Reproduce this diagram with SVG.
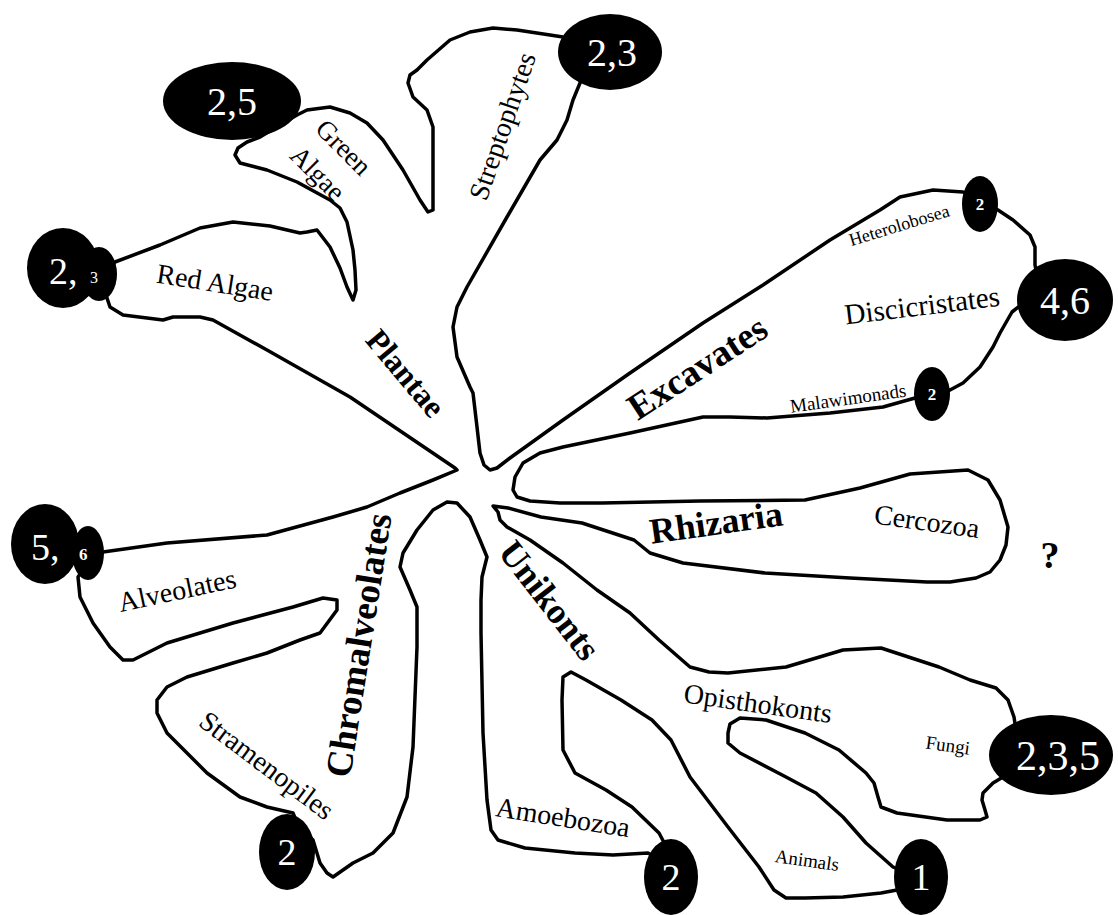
<svg xmlns="http://www.w3.org/2000/svg" width="1118" height="915" viewBox="0 0 1118 915">
<style>
.ol{fill:none;stroke:#000;stroke-width:3.5;stroke-linejoin:round;stroke-linecap:round}
.bd{fill:#000}
.bt{fill:#fff;font-family:"Liberation Serif","Times New Roman",serif;text-anchor:middle}
.lb{fill:#000;font-family:"Liberation Serif","Times New Roman",serif;text-anchor:middle}
.bo{font-weight:bold}
</style>
<rect width="1118" height="915" fill="#fff"/>
<g id="outline">
<path class="ol" d="M455,468 L350,397 L267,350 L213,320 L200,317 L173,317 L163,320 L123,315 L110,307 L107,298 L100,280 L115,262 L160,245 L200,228 L233,222 L270,226 L300,233 L307,232 L317,230 L330,247 L340,268 L347,287 L353,300 L356,290 L355,270 L353,250 L347,222 L340,208 L330,200 L297,182 L267,170 L240,163 L235,155 L238,148 L247,142 L260,137 L280,125 L297,115 L307,110 L330,107 L350,113 L367,123 L383,140 L403,170 L420,200 L428,212 L433,210 L433,187 L433,127 L427,110 L413,97 L408,83 L410,75 L417,70 L427,60 L450,40 L470,32 L493,28 L517,30 L550,35 L563,37 L590,60 L580,83 L573,100 L567,120 L557,140 L540,160 L507,217 L467,287 L457,307 L453,327 L457,357 L470,387 L473,393 L477,427 L480,453 L484,465 L490,470 L497,468 L510,458 L563,420 L630,373 L703,323 L763,285 L830,240 L880,210 L900,197 L933,190 L963,192 L980,200 L998,210 L1013,220 L1030,235 L1035,247 L1035,265 L1040,290 L1012,312 L1000,333 L993,347 L980,367 L963,383 L950,390 L932,395 L915,398 L883,407 L830,413 L767,418 L730,417 L703,417 L630,433 L563,447 L540,453 L523,463 L515,477 L513,490 L517,497 L530,501 L560,503 L602,503 L700,501 L805,500 L860,488 L910,474 L968,470 L988,480 L1000,500 L1008,527 L1006,545 L1000,560 L990,572 L976,578 L950,582 L927,582 L850,578 L765,573 L683,563 L650,553 L634,540 L582,523 L541,517 L508,508 L493,506 L498,512 L500,520 L507,527 L530,540 L563,563 L597,590 L630,613 L659,640 L690,667 L709,672 L728,673 L786,667 L843,650 L881,648 L939,667 L970,680 L996,688 L1008,700 L1014,717 L1016,730 L1040,760 L1003,777 L993,783 L983,793 L982,800 L985,810 L987,817 L980,820 L947,820 L897,813 L881,807 L878,797 L874,783 L866,773 L839,750 L805,733 L766,720 L740,718 L730,724 L728,733 L728,743 L740,753 L786,777 L816,793 L843,817 L866,843 L893,867 L905,872 L915,880 L897,890 L881,893 L843,897 L805,898 L786,898 L774,890 L759,867 L728,827 L690,777 L671,740 L652,720 L621,700 L586,680 L571,672 L563,677 L562,700 L563,750 L575,773 L606,790 L632,807 L659,833 L668,850 L660,860 L648,853 L613,855 L575,853 L525,848 L498,840 L491,830 L487,800 L483,733 L481,633 L481,600 L482,577 L487,557 L480,540 L470,517 L457,503 L447,502 L433,510 L417,530 L403,553 L400,567 L410,590 L417,607 L417,647 L413,747 L407,797 L393,833 L373,853 L353,863 L333,877 L327,873 L320,863 L313,840 L300,830 L293,813 L267,807 L240,797 L207,773 L187,753 L167,733 L157,713 L157,700 L167,687 L187,677 L233,663 L267,653 L300,640 L320,633 L337,610 L337,600 L323,598 L293,607 L233,623 L167,643 L133,660 L123,660 L110,647 L93,623 L80,597 L78,577 L90,560 L103,552 L167,543 L267,535 L333,517 L367,507 L400,493 L433,480 L457,470 Z"/>
</g>
<g id="badge-green"><ellipse class="bd" cx="232" cy="101" rx="69" ry="39"/><text class="bt" x="232" y="101" dy=".35em" font-size="40">2,5</text></g>
<g id="badge-strepto"><ellipse class="bd" cx="610" cy="52" rx="52" ry="38"/><text class="bt" x="612" y="52" dy=".35em" font-size="40">2,3</text></g>
<g id="badge-red"><ellipse class="bd" cx="63" cy="268" rx="36" ry="40"/><ellipse class="bd" cx="99" cy="274" rx="18" ry="27"/><text class="bt" x="49" y="284" font-size="38" style="text-anchor:start">2,</text><text class="bt" x="90" y="283" font-size="16" style="text-anchor:start">3</text></g>
<g id="badge-hetero"><ellipse class="bd" cx="980" cy="204" rx="18" ry="28"/><text class="bt bo" x="980" y="204" dy=".35em" font-size="17">2</text></g>
<g id="badge-disci"><ellipse class="bd" cx="1065" cy="300" rx="48" ry="41"/><text class="bt" x="1065" y="300" dy=".35em" font-size="40">4,6</text></g>
<g id="badge-malawi"><ellipse class="bd" cx="932" cy="394" rx="18" ry="27"/><text class="bt bo" x="932" y="394" dy=".35em" font-size="17">2</text></g>
<g id="badge-alveo"><ellipse class="bd" cx="45" cy="544" rx="34" ry="40"/><ellipse class="bd" cx="88" cy="553" rx="16" ry="27"/><text class="bt" x="31" y="560" font-size="38" style="text-anchor:start">5,</text><text class="bt bo" x="79" y="560" font-size="17" style="text-anchor:start">6</text></g>
<g id="badge-fungi"><ellipse class="bd" cx="1051" cy="755" rx="62" ry="40"/><text class="bt" x="1058" y="755" dy=".35em" font-size="42">2,3,5</text></g>
<g id="badge-strameno"><ellipse class="bd" cx="287" cy="852" rx="28" ry="38"/><text class="bt" x="287" y="852" dy=".35em" font-size="38">2</text></g>
<g id="badge-amoebo"><ellipse class="bd" cx="671" cy="877" rx="27" ry="38"/><text class="bt" x="671" y="877" dy=".35em" font-size="38">2</text></g>
<g id="badge-animals"><ellipse class="bd" cx="921" cy="877" rx="27" ry="38"/><text class="bt" x="921" y="877" dy=".35em" font-size="38">1</text></g>
<g id="labels">
<text class="lb" font-size="27" transform="translate(344,147) rotate(45)" dy=".35em">Green</text>
<text class="lb" font-size="27" transform="translate(318,173) rotate(45)" dy=".35em">Algae</text>
<text class="lb" font-size="28" transform="translate(215,282) rotate(9)" dy=".35em">Red Algae</text>
<text class="lb" font-size="28" transform="translate(502,126) rotate(-71)" dy=".35em">Streptophytes</text>
<text class="lb bo" font-size="32" transform="translate(406,373) rotate(50)" dy=".35em">Plantae</text>
<text class="lb bo" font-size="37" transform="translate(697,367) rotate(-33)" dy=".35em">Excavates</text>
<text class="lb" font-size="18" transform="translate(899,225) rotate(-17)" dy=".35em">Heterolobosea</text>
<text class="lb" font-size="29" transform="translate(922,305) rotate(-7)" dy=".35em">Discicristates</text>
<text class="lb" font-size="19" transform="translate(848,398) rotate(-8)" dy=".35em">Malawimonads</text>
<text class="lb bo" font-size="36" transform="translate(716,522) rotate(-8)" dy=".35em">Rhizaria</text>
<text class="lb" font-size="28" transform="translate(927,521) rotate(8)" dy=".35em">Cercozoa</text>
<text class="lb bo" font-size="38" x="1050" y="555" dy=".35em">?</text>
<text class="lb" font-size="28" transform="translate(177,590) rotate(-12)" dy=".35em">Alveolates</text>
<text class="lb bo" font-size="37" transform="translate(358,645) rotate(-81)" dy=".35em">Chromalveolates</text>
<text class="lb" font-size="28" transform="translate(267,765) rotate(37)" dy=".35em">Stramenopiles</text>
<text class="lb bo" font-size="36" transform="translate(550,600) rotate(52)" dy=".35em">Unikonts</text>
<text class="lb" font-size="28" transform="translate(758,703) rotate(8)" dy=".35em">Opisthokonts</text>
<text class="lb" font-size="19" transform="translate(948,745) rotate(8)" dy=".35em">Fungi</text>
<text class="lb" font-size="19" transform="translate(807,860) rotate(8)" dy=".35em">Animals</text>
<text class="lb" font-size="28" transform="translate(563,817) rotate(9)" dy=".35em">Amoebozoa</text>
</g>
</svg>
